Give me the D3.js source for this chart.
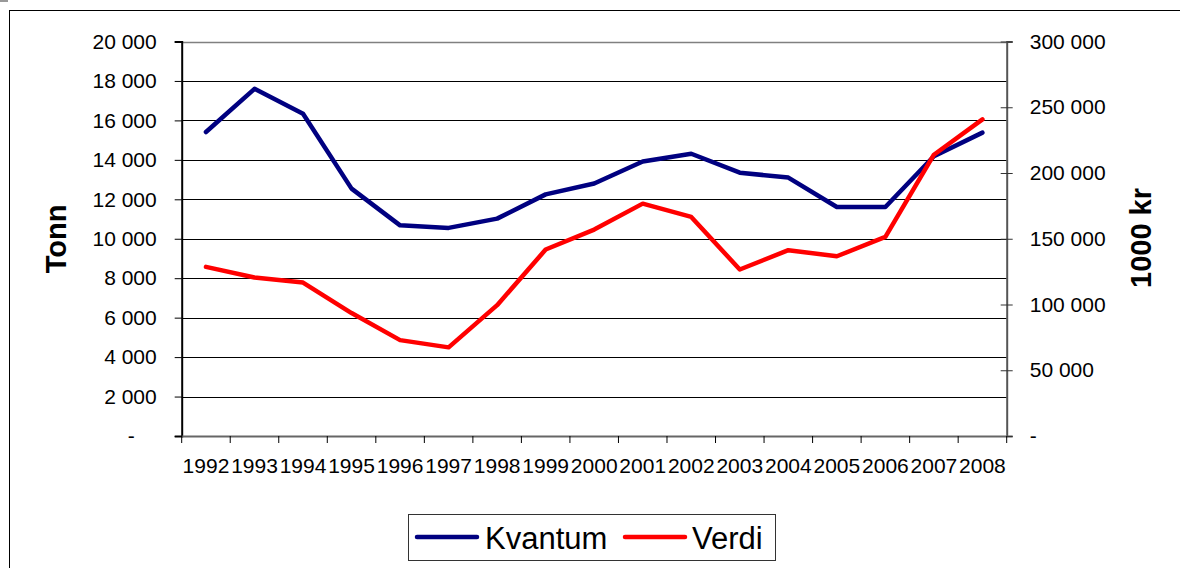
<!DOCTYPE html>
<html>
<head>
<meta charset="utf-8">
<script src="https://cdn.jsdelivr.net/npm/d3@7"></script>
<style>
  html, body { margin: 0; padding: 0; background: #fff; }
  svg { display: block; font-family: "Liberation Sans", Arial, sans-serif; }
</style>
</head>
<body>
<svg id="chart" width="1180" height="568"></svg>
<script>
const years = ["1992","1993","1994","1995","1996","1997","1998","1999","2000","2001","2002","2003","2004","2005","2006","2007","2008"];
const kvantum = [15410, 17600, 16340, 12540, 10680, 10550, 11020, 12250, 12800, 13920, 14310, 13350, 13100, 11610, 11610, 14180, 15380];
const verdi = [128600, 120500, 116700, 93500, 72900, 67400, 99500, 141800, 157000, 176700, 166600, 126600, 141300, 136700, 151400, 213900, 240800];
const leftTicks = [0, 2000, 4000, 6000, 8000, 10000, 12000, 14000, 16000, 18000, 20000];
const rightTicks = [0, 50000, 100000, 150000, 200000, 250000, 300000];
const seriesNames = ["Kvantum", "Verdi"];
const seriesColors = ["#000080", "#ff0000"];

const svg = d3.select("#chart");
const plot = { left: 181.7, right: 1006.7, top: 41.5, bottom: 436 };

// outer frame
svg.append("rect").attr("x", 0).attr("y", 0).attr("width", 8).attr("height", 2).attr("fill", "#999");
svg.append("rect").attr("x", 9.5).attr("y", 10.5).attr("width", 1300).attr("height", 700)
  .attr("fill", "none").attr("stroke", "#000").attr("stroke-width", 1);

const x = d3.scaleBand().domain(years).range([plot.left, plot.right]).padding(0);
const yL = d3.scaleLinear().domain([0, 20000]).range([plot.bottom, plot.top]);
const yR = d3.scaleLinear().domain([0, 300000]).range([plot.bottom, plot.top]);
const fmt = v => v === 0 ? "-" : d3.format(",")(v).replace(/,/g, " ");

// gridlines
svg.append("g").selectAll("line").data(leftTicks.filter(v => v > 0)).join("line")
  .attr("x1", plot.left).attr("x2", plot.right)
  .attr("y1", d => Math.round(yL(d)) + 0.5).attr("y2", d => Math.round(yL(d)) + 0.5)
  .attr("stroke", d => d === 20000 ? "#808080" : "#000").attr("stroke-width", d => d === 20000 ? 1.5 : 1);

// left axis
const gL = svg.append("g").attr("transform", `translate(${plot.left},0)`)
  .call(d3.axisLeft(yL).tickValues(leftTicks).tickFormat(fmt).tickSize(7).tickPadding(18));
gL.select(".domain").attr("stroke", "#000").attr("stroke-width", 2);
gL.selectAll(".tick line").attr("stroke", "#000");
gL.selectAll(".tick text").attr("font-size", 21).attr("fill", "#000")
  .attr("font-family", "Liberation Sans, Arial, sans-serif")
  .attr("dx", d => d === 0 ? -22 : 0);

// right axis
const gR = svg.append("g").attr("transform", `translate(${plot.right},0)`)
  .call(d3.axisRight(yR).tickValues(rightTicks).tickFormat(fmt).tickSize(6).tickPadding(17));
gR.select(".domain").attr("stroke", "#555").attr("stroke-width", 2);
gR.selectAll(".tick line").attr("x1", -6).attr("stroke", "#333");
gR.selectAll(".tick text").attr("font-size", 21).attr("fill", "#000")
  .attr("font-family", "Liberation Sans, Arial, sans-serif");

// bottom axis
const gB = svg.append("g").attr("transform", `translate(0,${plot.bottom})`)
  .call(d3.axisBottom(x).tickSize(0).tickPadding(22));
gB.select(".domain").attr("stroke", "#666").attr("stroke-width", 2);
gB.selectAll(".tick text").attr("font-size", 21).attr("fill", "#000")
  .attr("font-family", "Liberation Sans, Arial, sans-serif");
const bounds = years.map(d => x(d)).concat([x(years[years.length - 1]) + x.bandwidth()]);
gB.append("g").selectAll("line").data(bounds).join("line")
  .attr("x1", d => d).attr("x2", d => d).attr("y1", 0).attr("y2", 7)
  .attr("stroke", "#000").attr("stroke-width", 1);

// lines
const cx = d => x(d) + x.bandwidth() / 2;
const lineL = d3.line().x((d, i) => cx(years[i])).y(d => yL(d));
const lineR = d3.line().x((d, i) => cx(years[i])).y(d => yR(d));
svg.append("path").datum(kvantum).attr("d", lineL)
  .attr("fill", "none").attr("stroke", seriesColors[0]).attr("stroke-width", 4.5)
  .attr("stroke-linejoin", "round").attr("stroke-linecap", "round");
svg.append("path").datum(verdi).attr("d", lineR)
  .attr("fill", "none").attr("stroke", seriesColors[1]).attr("stroke-width", 4.5)
  .attr("stroke-linejoin", "round").attr("stroke-linecap", "round");

// axis titles
svg.append("text").attr("transform", "translate(66,239) rotate(-90)")
  .attr("text-anchor", "middle").attr("font-size", 29).attr("font-weight", "bold").text("Tonn");
svg.append("text").attr("transform", "translate(1151,238) rotate(-90)")
  .attr("text-anchor", "middle").attr("font-size", 29).attr("font-weight", "bold").text("1000 kr");

// legend
const lg = svg.append("g");
lg.append("rect").attr("x", 408.5).attr("y", 514.5).attr("width", 367).attr("height", 46)
  .attr("fill", "#fff").attr("stroke", "#333").attr("stroke-width", 1);
const legendItems = [{ x1: 417, x2: 477, tx: 485 }, { x1: 625, x2: 685, tx: 692 }];
legendItems.forEach((it, i) => {
  lg.append("line").attr("x1", it.x1).attr("x2", it.x2).attr("y1", 537).attr("y2", 537)
    .attr("stroke", seriesColors[i]).attr("stroke-width", 4.5).attr("stroke-linecap", "round");
  lg.append("text").attr("x", it.tx).attr("y", 549).attr("font-size", 31).attr("fill", "#000").text(seriesNames[i]);
});
</script>
</body>
</html>
